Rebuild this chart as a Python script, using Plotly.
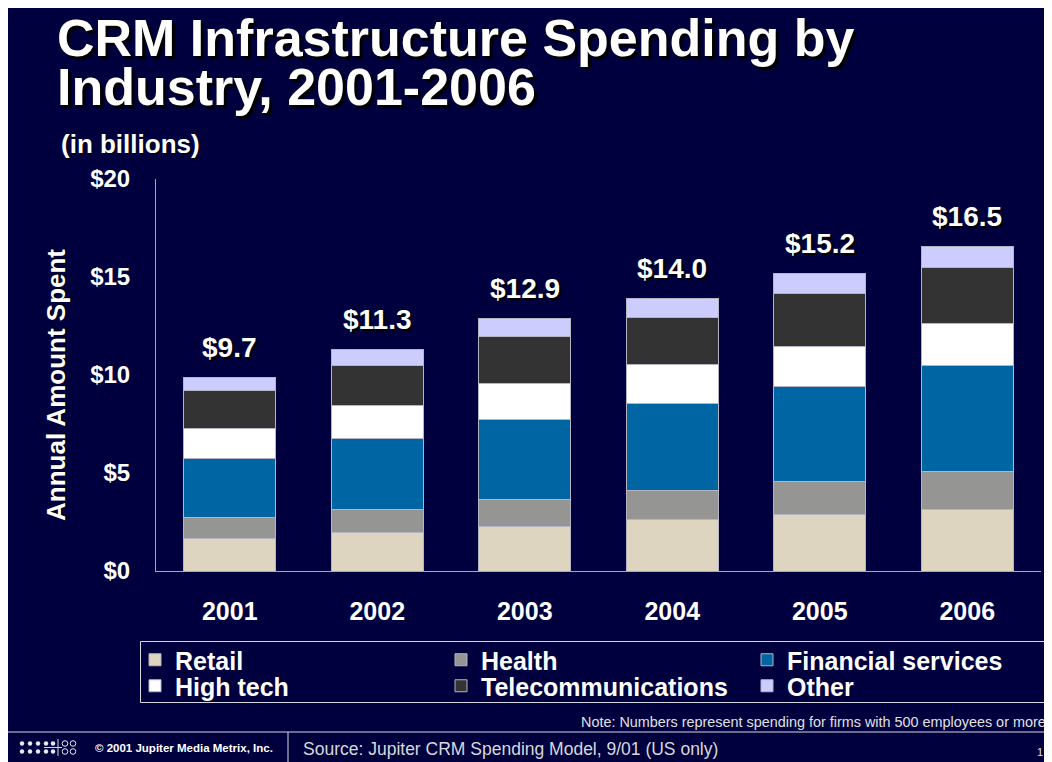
import plotly.graph_objects as go

# ---- data ----
years = ["2001", "2002", "2003", "2004", "2005", "2006"]
retail = [1.68, 1.98, 2.26, 2.63, 2.88, 3.14]
health = [1.03, 1.16, 1.40, 1.46, 1.68, 1.94]
financial = [3.05, 3.64, 4.09, 4.44, 4.85, 5.39]
high_tech = [1.51, 1.64, 1.83, 1.99, 2.06, 2.14]
telecom = [1.92, 2.05, 2.37, 2.43, 2.68, 2.87]
other = [0.67, 0.82, 0.93, 0.93, 1.04, 1.06]
total_labels = ["$9.7", "$11.3", "$12.9", "$14.0", "$15.2", "$16.5"]
y_tickvals = [0, 5, 10, 15, 20]
y_ticktext = ["$0", "$5", "$10", "$15", "$20"]

series = [
    ("Retail", retail, "#DDD5C0"),
    ("Health", health, "#959693"),
    ("Financial services", financial, "#0066A3"),
    ("High tech", high_tech, "#FFFFFF"),
    ("Telecommunications", telecom, "#333333"),
    ("Other", other, "#CCCCFF"),
]
legend_rows = ["legend", "legend", "legend", "legend2", "legend2", "legend2"]

# ---- geometry ----
W, H = 1052, 762
OFF = 8  # page body margin
L, R, T, B = 148, 19, 171, 199
PW, PH = W - L - R, H - T - B
NAVY = "#00003F"
FONT = "Liberation Sans"
LINE = "#D8D8E0"


def px(xs):
    return (xs - OFF - L) / PW


def py(ys):
    return (H - B - (ys - OFF)) / PH


fig = go.Figure()
for (name, vals, col), lg in zip(series, legend_rows):
    fig.add_trace(go.Bar(
        x=years, y=vals, name=name, legend=lg,
        marker=dict(color=col, line=dict(color="#B4B4C4", width=1)),
        hoverinfo="skip",
    ))

totals = [sum(v) for v in zip(*[s[1] for s in series])]
annotations = []
for i, (tot, lab) in enumerate(zip(totals, total_labels)):
    annotations.append(dict(
        x=i, y=tot, xref="x", yref="y", text="<b>%s</b>" % lab,
        showarrow=False, yshift=30, yanchor="middle",
        font=dict(family=FONT, size=28, color="white", shadow="2px 2px 1px #000000"),
    ))

title_font = dict(family=FONT, size=52, color="white", shadow="3px 3px 1px #000000")
annotations += [
    dict(x=px(55), y=py(38), xref="paper", yref="paper", xanchor="left", yanchor="middle",
         text="<b>CRM Infrastructure Spending by</b>", showarrow=False, font=title_font),
    dict(x=px(55), y=py(87), xref="paper", yref="paper", xanchor="left", yanchor="middle",
         text="<b>Industry, 2001-2006</b>", showarrow=False, font=title_font),
    dict(x=px(59), y=py(144), xref="paper", yref="paper", xanchor="left", yanchor="middle",
         text="<b>(in billions)</b>", showarrow=False,
         font=dict(family=FONT, size=26, color="white", shadow="1px 1px 1px #000000")),
    dict(x=px(56), y=py(385), xref="paper", yref="paper", xanchor="center", yanchor="middle",
         text="<b>Annual Amount Spent</b>", textangle=-90, showarrow=False,
         font=dict(family=FONT, size=26, color="white", shadow="1px 1px 1px #000000")),
    dict(x=px(1052), y=py(722), xref="paper", yref="paper", xanchor="right", yanchor="middle",
         text="Note: Numbers represent spending for firms with 500 employees or more.",
         showarrow=False, font=dict(family=FONT, size=14.4, color="#E0E0E0")),
    dict(x=px(93), y=py(748), xref="paper", yref="paper", xanchor="left", yanchor="middle",
         text="<b>© 2001 Jupiter Media Metrix, Inc.</b>", showarrow=False,
         font=dict(family=FONT, size=11.5, color="white")),
    dict(x=px(301), y=py(749), xref="paper", yref="paper", xanchor="left", yanchor="middle",
         text="Source: Jupiter CRM Spending Model, 9/01 (US only)", showarrow=False,
         font=dict(family=FONT, size=17.5, color="#D8D8D8")),
    dict(x=px(1040), y=py(752), xref="paper", yref="paper", xanchor="center", yanchor="middle",
         text="1", showarrow=False, font=dict(family=FONT, size=11, color="#E0E0E0")),
]

shapes = [
    # legend frame
    dict(type="rect", xref="paper", yref="paper", x0=px(140.5), x1=px(1075), y0=py(641.5), y1=py(702.5),
         line=dict(color=LINE, width=1), fillcolor="rgba(0,0,0,0)"),
    # footer lines
    dict(type="line", xref="paper", yref="paper", x0=px(0), x1=px(W + 10), y0=py(732), y1=py(732),
         line=dict(color=LINE, width=1)),
    dict(type="line", xref="paper", yref="paper", x0=px(288), x1=px(288), y0=py(732), y1=py(H + 10),
         line=dict(color=LINE, width=1)),
    dict(type="line", xref="paper", yref="paper", x0=px(58), x1=px(58), y0=py(739), y1=py(756),
         line=dict(color=LINE, width=1)),
    dict(type="line", xref="paper", yref="paper", x0=px(44), x1=px(62), y0=py(747.5), y1=py(747.5),
         line=dict(color=LINE, width=1)),
]
for cy in (743.5, 751.5):
    for cx in (22, 30, 38, 46, 53):
        shapes.append(dict(type="circle", xref="paper", yref="paper",
                           x0=px(cx - 2.2), x1=px(cx + 2.2), y0=py(cy - 2.2), y1=py(cy + 2.2),
                           fillcolor="#E8E8F0", line=dict(width=0)))
    for cx in (65, 73):
        shapes.append(dict(type="circle", xref="paper", yref="paper",
                           x0=px(cx - 2.8), x1=px(cx + 2.8), y0=py(cy - 2.8), y1=py(cy + 2.8),
                           fillcolor="rgba(0,0,0,0)", line=dict(color="#E8E8F0", width=1)))

legend_common = dict(
    orientation="h", xanchor="left", yanchor="middle",
    entrywidth=261, entrywidthmode="pixels", traceorder="normal",
    font=dict(family=FONT, size=25, color="white", weight="bold"),
    bgcolor="rgba(0,0,0,0)", borderwidth=0,
    itemclick=False, itemdoubleclick=False,
)

fig.update_layout(
    width=W, height=H,
    margin=dict(l=L, r=R, t=T, b=B, autoexpand=False),
    paper_bgcolor=NAVY, plot_bgcolor="rgba(0,0,0,0)",
    barmode="stack", bargap=0.376,
    font=dict(family=FONT, color="white"),
    showlegend=True,
    legend=dict(x=px(135), y=py(660), **legend_common),
    legend2=dict(x=px(135), y=py(686), **legend_common),
    xaxis=dict(
        type="category", categoryorder="array", categoryarray=years,
        range=[-0.5, len(years) - 0.5],
        showgrid=False, showline=True, linecolor="#A8A8B8", linewidth=1,
        ticks="", ticklabelstandoff=18,
        tickfont=dict(family=FONT, size=25, color="white", weight="bold"),
        fixedrange=True,
    ),
    yaxis=dict(
        range=[0, 20], tickvals=y_tickvals, ticktext=y_ticktext,
        showgrid=False, zeroline=False, showline=True, linecolor="#A8A8B8", linewidth=1,
        ticks="", ticklabelstandoff=20,
        tickfont=dict(family=FONT, size=24, color="white", weight="bold"),
        fixedrange=True,
    ),
    annotations=annotations,
    shapes=shapes,
)

fig.write_html("out.html")
